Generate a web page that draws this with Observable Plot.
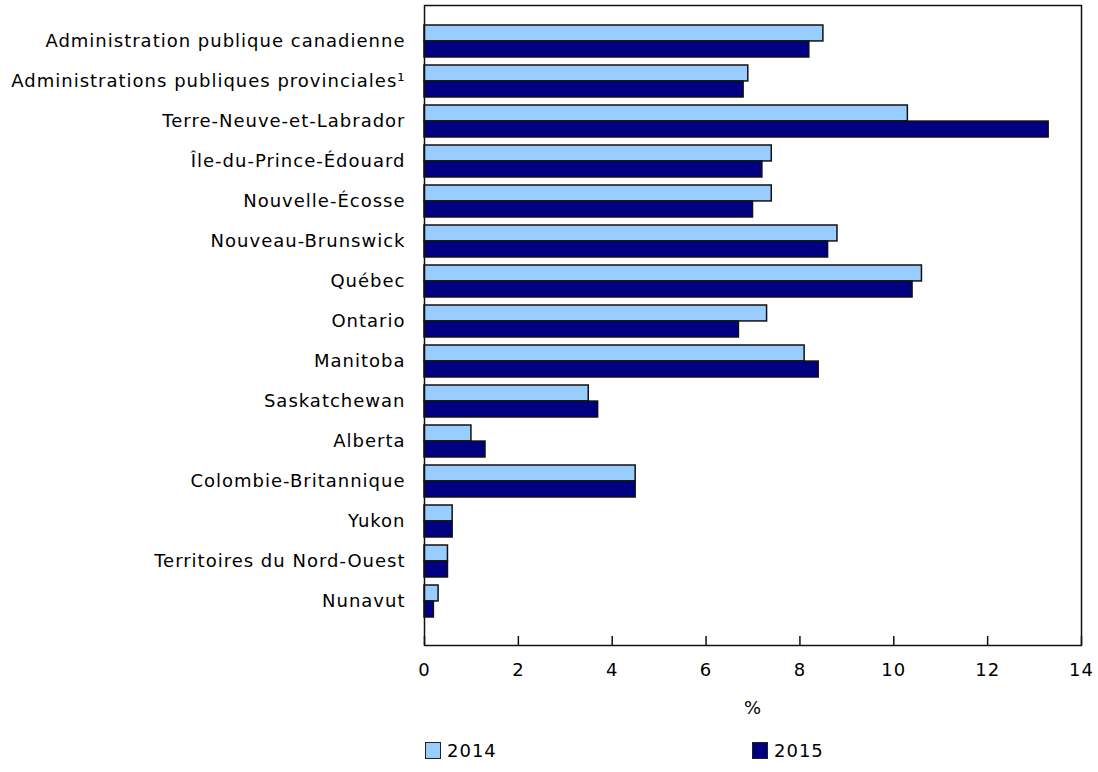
<!DOCTYPE html>
<html>
<head>
<meta charset="utf-8">
<script src="https://cdn.jsdelivr.net/npm/d3@7"></script>
<script src="https://cdn.jsdelivr.net/npm/@observablehq/plot@0.6"></script>
<style>
  body { margin: 0; background: #fff; font-family: "DejaVu Sans", Verdana, sans-serif; color: #000; }
  .chart text { font-size: 18px; letter-spacing: 1px; fill: #000; }
  #legend { position: relative; height: 47px; font-size: 18px; letter-spacing: 1px; }
  .item { position: absolute; top: 15px; display: flex; align-items: center; }
  .sw { width: 14px; height: 15px; border: 1.5px solid #222; margin-right: 6px; }
</style>
</head>
<body>
<div id="chart"></div>
<div id="legend"></div>
<script>
const categories = [
  "Administration publique canadienne",
  "Administrations publiques provinciales¹",
  "Terre-Neuve-et-Labrador",
  "Île-du-Prince-Édouard",
  "Nouvelle-Écosse",
  "Nouveau-Brunswick",
  "Québec",
  "Ontario",
  "Manitoba",
  "Saskatchewan",
  "Alberta",
  "Colombie-Britannique",
  "Yukon",
  "Territoires du Nord-Ouest",
  "Nunavut"
];
const values2014 = [8.5, 6.9, 10.3, 7.4, 7.4, 8.8, 10.6, 7.3, 8.1, 3.5, 1.0, 4.5, 0.6, 0.5, 0.3];
const values2015 = [8.2, 6.8, 13.3, 7.2, 7.0, 8.6, 10.4, 6.7, 8.4, 3.7, 1.3, 4.5, 0.6, 0.5, 0.2];
const seriesNames = ["2014", "2015"];
const seriesColors = ["#99CCFF", "#000080"];
const xTicks = [0, 2, 4, 6, 8, 10, 12, 14];
const xLabel = "%";

const d2014 = categories.map((c, i) => ({category: c, value: values2014[i]}));
const d2015 = categories.map((c, i) => ({category: c, value: values2015[i]}));

const width = 1098, height = 725;
const marginTop = 5, marginBottom = 80, marginLeft = 424, marginRight = 17;
const plotH = height - marginTop - marginBottom;
const step = plotH / (categories.length - 0.2 + 2 * 0.57);
const half = step * 0.8 / 2;

const chart = Plot.plot({
  width, height, marginTop, marginBottom, marginLeft, marginRight,
  className: "chart",
  style: {fontFamily: "'DejaVu Sans', Verdana, sans-serif", color: "#000", background: "#fff"},
  x: {domain: [0, 14]},
  y: {domain: categories, paddingInner: 0.2, paddingOuter: 0.57, align: 0.42},
  marks: [
    Plot.barX(d2014, {y: "category", x: "value", fill: seriesColors[0], stroke: "#111", strokeWidth: 1.5, insetBottom: half}),
    Plot.barX(d2015, {y: "category", x: "value", fill: seriesColors[1], stroke: "#111", strokeWidth: 1.5, insetTop: half}),
    Plot.ruleX(xTicks, {x: d => d, stroke: "#111", strokeWidth: 1.5, insetTop: plotH - 9}),
    Plot.frame({stroke: "#111", strokeWidth: 1.5}),
    Plot.axisY({tickSize: 0, tickPadding: 19, label: null}),
    Plot.axisX({ticks: xTicks, tickSize: 0, tickPadding: 18, tickFormat: d => String(d),
                label: xLabel, labelAnchor: "center", labelOffset: 68, labelArrow: "none"})
  ]
});
document.getElementById("chart").appendChild(chart);

const legend = document.getElementById("legend");
const positions = [425, 752];
seriesNames.forEach((n, i) => {
  const it = document.createElement("div");
  it.className = "item";
  it.style.left = positions[i] + "px";
  const sw = document.createElement("div");
  sw.className = "sw";
  sw.style.background = seriesColors[i];
  const t = document.createElement("span");
  t.textContent = n;
  it.appendChild(sw); it.appendChild(t);
  legend.appendChild(it);
});
</script>
</body>
</html>
